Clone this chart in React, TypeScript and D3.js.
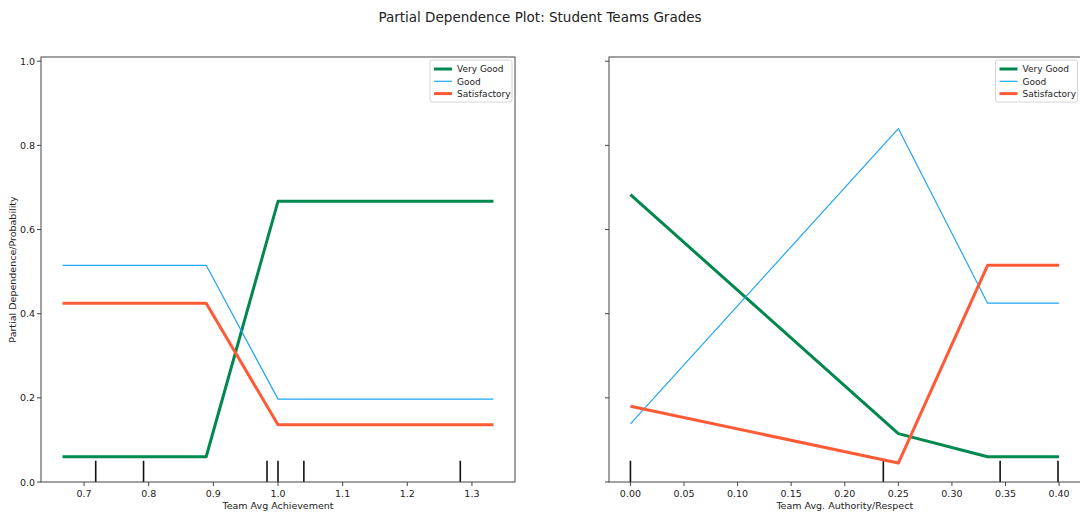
import React from 'react';
import * as d3 from 'd3';

const W = 1080
const H = 514

const seriesNames = ['Very Good', 'Good', 'Satisfactory']
const seriesColors = ['#00884f', '#1fa6f7', '#ff5a36']
const seriesWidths = [3, 1.2, 3]

// left panel: Team Avg Achievement
const achievementGrid = [0.6667, 0.8889, 1.0, 1.3333]
const achievementVeryGood = [0.06, 0.06, 0.667, 0.667]
const achievementGood = [0.515, 0.515, 0.197, 0.197]
const achievementSatisfactory = [0.425, 0.425, 0.136, 0.136]
const achievementDeciles = [0.718, 0.792, 0.983, 1.0, 1.04, 1.282]
const achievementTicks = [0.7, 0.8, 0.9, 1.0, 1.1, 1.2, 1.3]

// right panel: Team Avg. Authority/Respect
const authorityGrid = [0.0, 0.25, 0.3333, 0.4]
const authorityVeryGood = [0.683, 0.115, 0.06, 0.06]
const authorityGood = [0.138, 0.84, 0.425, 0.425]
const authoritySatisfactory = [0.18, 0.045, 0.515, 0.515]
const authorityDeciles = [0.0, 0.236, 0.345, 0.399]
const authorityTicks = [0.0, 0.05, 0.1, 0.15, 0.2, 0.25, 0.3, 0.35, 0.4]

const yTicks = [0, 0.2, 0.4, 0.6, 0.8, 1.0]

const font = 'DejaVu Sans, sans-serif'
const axisColor = '#444'

const top = 57
const bottom = 482

function Panel({ left, right, grid, series, deciles, ticks, tickFmt, xLabel, showYLabels }) {
  const [lo, hi] = d3.extent(grid)
  const pad = (hi - lo) * 0.05
  const x = d3.scaleLinear().domain([lo - pad, hi + pad]).range([left, right])
  const y = d3.scaleLinear().domain([0, 1.01]).range([bottom, top])
  const line = d3
    .line()
    .x(d => x(d[0]))
    .y(d => y(d[1]))
  const rugTop = bottom - (bottom - top) * 0.05
  const legX = right - 85
  const legY = top + 3

  return (
    <g>
      {deciles.map((d, i) => (
        <line key={'r' + i} x1={x(d)} x2={x(d)} y1={bottom} y2={rugTop} stroke="#111" strokeWidth={1.6} />
      ))}
      {series.map((vals, i) => (
        <path
          key={'s' + i}
          d={line(grid.map((g, j) => [g, vals[j]]))}
          fill="none"
          stroke={seriesColors[i]}
          strokeWidth={seriesWidths[i]}
          strokeLinejoin="round"
        />
      ))}
      <rect x={left} y={top} width={right - left} height={bottom - top} fill="none" stroke={axisColor} strokeWidth={1} />
      {ticks.map((t, i) => (
        <g key={'x' + i}>
          <line x1={x(t)} x2={x(t)} y1={bottom} y2={bottom + 4} stroke={axisColor} />
          <text x={x(t)} y={bottom + 15} textAnchor="middle" fontSize={9.5} fontFamily={font} fill="#222">
            {tickFmt(t)}
          </text>
        </g>
      ))}
      {yTicks.map((t, i) => (
        <g key={'y' + i}>
          <line x1={left - 4} x2={left} y1={y(t)} y2={y(t)} stroke={axisColor} />
          {showYLabels && (
            <text x={left - 6} y={y(t) + 3.5} textAnchor="end" fontSize={9.5} fontFamily={font} fill="#222">
              {d3.format('.1f')(t)}
            </text>
          )}
        </g>
      ))}
      <text x={(left + right) / 2} y={bottom + 27} textAnchor="middle" fontSize={9.5} fontFamily={font} fill="#222">
        {xLabel}
      </text>
      <rect x={legX} y={legY} width={82} height={42} rx={2} fill="#fff" stroke="#d5d5d5" strokeWidth={1} />
      {seriesNames.map((name, i) => (
        <g key={'l' + i}>
          <line
            x1={legX + 4}
            x2={legX + 22}
            y1={legY + 9 + i * 12.3}
            y2={legY + 9 + i * 12.3}
            stroke={seriesColors[i]}
            strokeWidth={seriesWidths[i]}
          />
          <text x={legX + 27} y={legY + 12.3 + i * 12.3} fontSize={9} fontFamily={font} fill="#222">
            {name}
          </text>
        </g>
      ))}
    </g>
  )
}

export default function App() {
  return (
    <svg width={W} height={H} style={{ position: 'absolute', left: 0, top: 0, background: '#fff' }}>
      <text x={W / 2} y={22} textAnchor="middle" fontSize={13.5} fontFamily={font} fill="#222">
        Partial Dependence Plot: Student Teams Grades
      </text>
      <text
        transform={`translate(16,${(top + bottom) / 2}) rotate(-90)`}
        textAnchor="middle"
        fontSize={9.5}
        fontFamily={font}
        fill="#222"
      >
        Partial Dependence/Probability
      </text>
      <Panel
        left={41}
        right={515}
        grid={achievementGrid}
        series={[achievementVeryGood, achievementGood, achievementSatisfactory]}
        deciles={achievementDeciles}
        ticks={achievementTicks}
        tickFmt={d3.format('.1f')}
        xLabel="Team Avg Achievement"
        showYLabels={true}
      />
      <Panel
        left={609}
        right={1080.5}
        grid={authorityGrid}
        series={[authorityVeryGood, authorityGood, authoritySatisfactory]}
        deciles={authorityDeciles}
        ticks={authorityTicks}
        tickFmt={d3.format('.2f')}
        xLabel="Team Avg. Authority/Respect"
        showYLabels={false}
      />
    </svg>
  )
}
